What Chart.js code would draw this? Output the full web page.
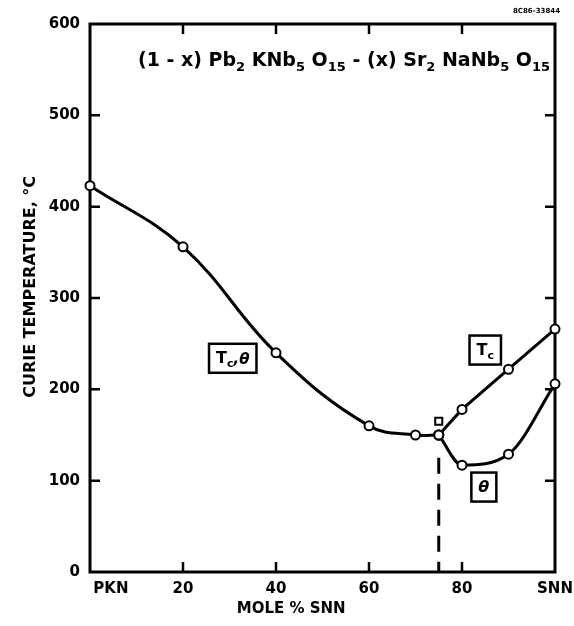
<!DOCTYPE html>
<html lang="en">
<head>
    <meta charset="UTF-8">
    <title>Curie Temperature vs Mole % SNN</title>
    <script src="https://cdn.jsdelivr.net/npm/chart.js"></script>
    <style>
        body { margin: 0; background: #fff; }
        .wrap { position: relative; width: 574px; height: 626px; }
    </style>
</head>
<body>
    <div class="wrap">
        <canvas id="curieChart"></canvas>
    </div>

    <script>
        // Tc,theta common branch (PKN side)
        const mainX = [0, 20, 40, 60, 70, 75];
        const mainY = [423, 356, 240, 160, 150, 150];
        // Tc branch (SNN side)
        const tcX = [75, 80, 90, 100];
        const tcY = [150, 178, 222, 266];
        // theta branch
        const thetaX = [75, 80, 90, 100];
        const thetaY = [150, 117, 129, 206];
        // lone square point
        const squareX = [75];
        const squareY = [165];
        // dashed phase boundary
        const dashX = [75, 75];
        const dashY = [125, 0];

        const xTicks = [0, 20, 40, 60, 80, 100];
        const xTickLabels = ['PKN', '20', '40', '60', '80', 'SNN'];
        const yTicks = [0, 100, 200, 300, 400, 500, 600];

        // boxed curve labels, placed in data units
        const boxLabels = [
            { x: 30.7, y: 234, main: 'T', sub: 'c', tail: ',θ' },
            { x: 85.0, y: 243, main: 'T', sub: 'c', tail: '' },
            { x: 84.7, y: 93, main: 'θ', sub: '', tail: '' }
        ];

        const pts = (xs, ys) => xs.map((x, i) => ({ x: x, y: ys[i] }));
        const FONT = 'DejaVu Sans';
        const NB = '\u00a0';

        // frame, inward ticks, title formula and boxed labels
        const decor = {
            id: 'decor',
            beforeDatasetsDraw(chart) {
                const { ctx, chartArea: a, scales: { x, y } } = chart;
                ctx.save();
                ctx.strokeStyle = '#000';
                ctx.lineWidth = 3;
                ctx.strokeRect(a.left, a.top, a.right - a.left, a.bottom - a.top);
                ctx.lineWidth = 2.5;
                ctx.beginPath();
                xTicks.slice(1, -1).forEach(v => {
                    const px = x.getPixelForValue(v);
                    ctx.moveTo(px, a.bottom); ctx.lineTo(px, a.bottom - 10);
                    ctx.moveTo(px, a.top); ctx.lineTo(px, a.top + 10);
                });
                yTicks.slice(1, -1).forEach(v => {
                    const py = y.getPixelForValue(v);
                    ctx.moveTo(a.left, py); ctx.lineTo(a.left + 10, py);
                    ctx.moveTo(a.right, py); ctx.lineTo(a.right - 10, py);
                });
                ctx.stroke();
                ctx.restore();
            },
            afterDatasetsDraw(chart) {
                const { ctx, chartArea: a, scales: { x, y } } = chart;
                ctx.save();
                ctx.fillStyle = '#000';
                ctx.textBaseline = 'alphabetic';

                // formula title
                const parts = [
                    ['(1 - x) Pb', 0], ['2', 1], [' KNb', 0], ['5', 1], [' O', 0], ['15', 1],
                    [' - (x) Sr', 0], ['2', 1], [' NaNb', 0], ['5', 1], [' O', 0], ['15', 1]
                ];
                const big = 'bold 19px ' + FONT, small = 'bold 13px ' + FONT;
                let w = 0;
                parts.forEach(p => { ctx.font = p[1] ? small : big; w += ctx.measureText(p[0]).width; });
                let cx = 344 - w / 2;
                parts.forEach(p => {
                    ctx.font = p[1] ? small : big;
                    ctx.fillText(p[0], cx, p[1] ? 71 : 66);
                    cx += ctx.measureText(p[0]).width;
                });

                // tiny reference number
                ctx.font = 'bold 7px ' + FONT;
                ctx.textAlign = 'right';
                ctx.fillText('8C86-33844', 560, 13);
                ctx.textAlign = 'left';

                // boxed labels
                boxLabels.forEach(b => {
                    const px = x.getPixelForValue(b.x), py = y.getPixelForValue(b.y);
                    ctx.font = 'bold 16px ' + FONT;
                    const mw = ctx.measureText(b.main).width;
                    ctx.font = 'bold 11px ' + FONT;
                    const sw = b.sub ? ctx.measureText(b.sub).width : 0;
                    ctx.font = 'bold italic 15px ' + FONT;
                    const tw = b.tail ? ctx.measureText(b.tail).width : 0;
                    const total = mw + sw + tw;
                    const bw = total + 14, bh = 29;
                    ctx.fillStyle = '#fff';
                    ctx.fillRect(px - bw / 2, py - bh / 2, bw, bh);
                    ctx.lineWidth = 2.5;
                    ctx.strokeStyle = '#000';
                    ctx.strokeRect(px - bw / 2, py - bh / 2, bw, bh);
                    ctx.fillStyle = '#000';
                    let tx = px - total / 2;
                    if (b.main === 'θ') ctx.font = 'bold italic 16px ' + FONT;
                    else ctx.font = 'bold 16px ' + FONT;
                    ctx.fillText(b.main, tx, py + 5);
                    tx += mw;
                    if (b.sub) {
                        ctx.font = 'bold 11px ' + FONT;
                        ctx.fillText(b.sub, tx, py + 9);
                        tx += sw;
                    }
                    if (b.tail) {
                        ctx.font = 'bold italic 15px ' + FONT;
                        ctx.fillText(b.tail, tx, py + 6);
                    }
                });
                ctx.restore();
            }
        };

        const lineStyle = {
            borderColor: '#000',
            borderWidth: 3,
            pointRadius: 4.5,
            pointBackgroundColor: '#fff',
            pointBorderColor: '#000',
            pointBorderWidth: 2,
            showLine: true,
            fill: false,
            clip: false
        };

        new Chart(document.getElementById('curieChart'), {
            type: 'scatter',
            data: {
                datasets: [
                    Object.assign({ label: 'Tc,θ', data: pts(mainX, mainY), tension: 0.4 }, lineStyle),
                    Object.assign({ label: 'Tc', data: pts(tcX, tcY), tension: 0 }, lineStyle),
                    Object.assign({ label: 'θ', data: pts(thetaX, thetaY), cubicInterpolationMode: 'monotone' }, lineStyle),
                    Object.assign({}, lineStyle, { label: 'square', data: pts(squareX, squareY), showLine: false, pointStyle: 'rect', pointRadius: 5 }),
                    {
                        label: 'boundary', data: pts(dashX, dashY), showLine: true,
                        borderColor: '#000', borderWidth: 3, borderDash: [16, 10],
                        pointRadius: 0, fill: false, clip: false
                    }
                ]
            },
            options: {
                responsive: true,
                maintainAspectRatio: false,
                animation: false,
                layout: { padding: { left: 0, right: 0, top: 24, bottom: 0 } },
                plugins: { legend: { display: false }, tooltip: { enabled: false } },
                scales: {
                    x: {
                        type: 'linear',
                        min: 0, max: 100,
                        afterFit: s => { s.height = 54; s.paddingRight = 19; },
                        afterBuildTicks: s => { s.ticks = xTicks.map(v => ({ value: v })); },
                        grid: { display: false, drawTicks: false },
                        border: { display: false },
                        ticks: {
                            padding: 8,
                            color: '#000',
                            font: { family: FONT, weight: 'bold', size: 15 },
                            // PKN sits just right of the axis in the original
                            callback: v => (v === 0 ? NB.repeat(8) : '') + xTickLabels[xTicks.indexOf(v)],
                            maxRotation: 0
                        },
                        title: {
                            display: true,
                            text: 'MOLE % SNN' + NB.repeat(12),
                            color: '#000',
                            font: { family: FONT, weight: 'bold', size: 15 },
                            padding: { top: 0, bottom: 8 }
                        }
                    },
                    y: {
                        type: 'linear',
                        min: 0, max: 600,
                        afterFit: s => { s.width = 90; },
                        afterBuildTicks: s => { s.ticks = yTicks.map(v => ({ value: v })); },
                        grid: { display: false, drawTicks: false },
                        border: { display: false },
                        ticks: {
                            padding: 10,
                            color: '#000',
                            font: { family: FONT, weight: 'bold', size: 15 }
                        },
                        title: {
                            display: true,
                            text: NB.repeat(4) + 'CURIE TEMPERATURE, °C',
                            color: '#000',
                            font: { family: FONT, weight: 'bold', size: 16 },
                            padding: { top: 21, bottom: 0 }
                        }
                    }
                }
            },
            plugins: [decor]
        });
    </script>
</body>
</html>
